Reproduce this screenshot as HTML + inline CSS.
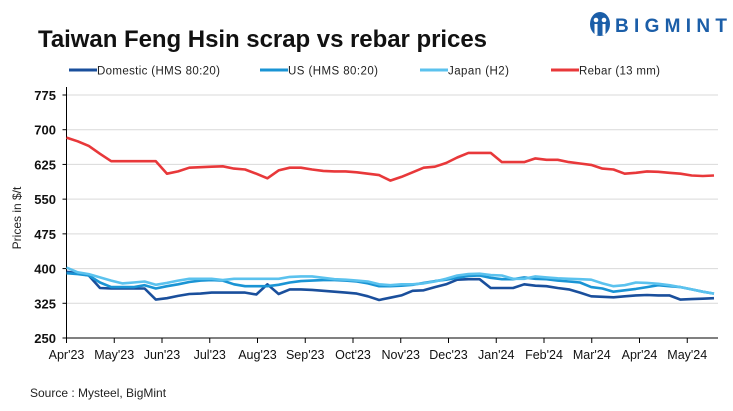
<!DOCTYPE html>
<html><head><meta charset="utf-8"><style>
body{margin:0;background:#fff;font-family:"Liberation Sans",Arial,sans-serif}
#wrap{position:relative;width:733px;height:411px;overflow:hidden}
</style></head><body>
<div id="wrap">
<svg id="chart" width="733" height="411">
<text x="38" y="47" font-size="24" font-weight="bold" fill="#111" textLength="449">Taiwan Feng Hsin scrap vs rebar prices</text>
<g>
<ellipse cx="600" cy="24" rx="10" ry="12" fill="#1b5ea8"/>
<circle cx="596" cy="20" r="2.3" fill="#fff"/><circle cx="604" cy="20" r="2.3" fill="#fff"/>
<rect x="594.5" y="24" width="3" height="11" fill="#fff"/><rect x="602.5" y="24" width="3" height="11" fill="#fff"/>
<text x="615" y="32" font-size="19" font-weight="bold" fill="#1b5ea8" textLength="112">BIGMINT</text>
</g>
<g id="legend"></g>
<g id="grid"></g><g id="axes"></g><g id="series"></g>
<text transform="translate(21,218) rotate(-90)" text-anchor="middle" font-size="12" fill="#222">Prices in $/t</text>
<text x="30" y="397" font-size="12" fill="#222">Source : Mysteel, BigMint</text>
</svg>
</div>
<script>
const months=["Apr'23","May'23","Jun'23","Jul'23","Aug'23","Sep'23","Oct'23","Nov'23","Dec'23","Jan'24","Feb'24","Mar'24","Apr'24","May'24"];
const yTicks=[250,325,400,475,550,625,700,775];
const domestic=[393,390,385,358,357,357,357,357,333,336,341,345,346,348,348,348,348,344,366,345,355,355,354,352,350,348,346,340,332,337,342,352,353,360,366,376,377,377,358,358,358,366,363,362,358,355,348,340,339,338,340,342,343,342,342,333,334,335,336];
const us=[390,388,385,370,360,360,360,364,357,362,366,371,374,375,374,366,362,362,362,365,370,373,374,375,375,374,372,368,362,362,363,365,369,373,376,380,384,385,380,377,377,381,378,377,374,372,370,360,357,350,353,356,360,364,362,360,355,350,346];
const japan=[402,392,388,381,374,368,370,372,365,369,374,378,378,378,375,378,378,378,378,378,382,383,383,380,377,376,374,372,366,364,366,366,368,372,378,385,388,389,386,385,378,378,383,381,379,378,377,376,368,362,364,370,369,367,364,360,355,350,346];
const rebar=[683,675,665,648,632,632,632,632,632,605,610,618,619,620,621,616,614,605,595,612,618,618,614,611,610,610,608,605,602,590,598,608,618,620,628,640,650,650,650,630,630,630,638,635,635,630,627,624,616,614,605,607,610,609,607,605,601,600,601];
const seriesNames=["Domestic (HMS 80:20)","US (HMS 80:20)","Japan (H2)","Rebar (13 mm)"];
const colors=["#1a4f9c","#1a94d4","#5bc2ee","#e8383a"];
const ns="http://www.w3.org/2000/svg";
const X0=66.5,X1=714,Y0=338,Y1=95,VMIN=250,VMAX=775;
const monthW=47.75;
function y(v){return Y0-(v-VMIN)/(VMAX-VMIN)*(Y0-Y1);}
function x(i,n){return X0+i*(X1-X0)/(n-1);}
function mk(t,a,p){const e=document.createElementNS(ns,t);for(const k in a)e.setAttribute(k,a[k]);p.appendChild(e);return e;}
const grid=document.getElementById('grid'),axes=document.getElementById('axes'),ser=document.getElementById('series'),leg=document.getElementById('legend');
yTicks.forEach(v=>{
 if(v>VMIN){const g=mk('line',{x1:X0,x2:X1+4,y1:y(v),y2:y(v),stroke:'#d9d9d9','stroke-width':1},grid);
 
 }
 mk('line',{x1:X0-4,x2:X0,y1:y(v),y2:y(v),stroke:'#000'},axes);
 const t=mk('text',{x:56,y:y(v)+5,'text-anchor':'end','font-size':13,'font-weight':'bold',fill:'#111'},axes);t.textContent=v;
 
 
});
mk('line',{x1:X0,x2:X0,y1:Y1-8,y2:Y0,stroke:'#000'},axes);
mk('line',{x1:X0,x2:X1+4,y1:Y0,y2:Y0,stroke:'#000'},axes);
months.forEach((m,i)=>{
 const xx=X0+i*monthW;
 mk('line',{x1:xx,x2:xx,y1:Y0,y2:Y0+5,stroke:'#000'},axes);
 const t=mk('text',{x:xx,y:359,'text-anchor':'middle','font-size':12.5,fill:'#111'},axes);t.textContent=m;
 
 
});
[domestic,us,japan,rebar].forEach((d,s)=>{
 const p=mk('polyline',{points:d.map((v,i)=>x(i,d.length).toFixed(1)+','+y(v).toFixed(1)).join(' '),fill:'none',stroke:colors[s],'stroke-width':2.6,'stroke-linejoin':'round'},ser);
 
 
});
const lx=[69,260,420,551];
const tw=[123,90,61,81];
seriesNames.forEach((n,s)=>{
 const g=mk('g',{},leg);
 
 
 mk('line',{x1:lx[s],x2:lx[s]+28,y1:70,y2:70,stroke:colors[s],'stroke-width':3},g);
 const t=mk('text',{x:lx[s]+28,y:74.5,'font-size':11.5,fill:'#222',textLength:tw[s]},g);t.textContent=n;
});
</script>
</body></html>
